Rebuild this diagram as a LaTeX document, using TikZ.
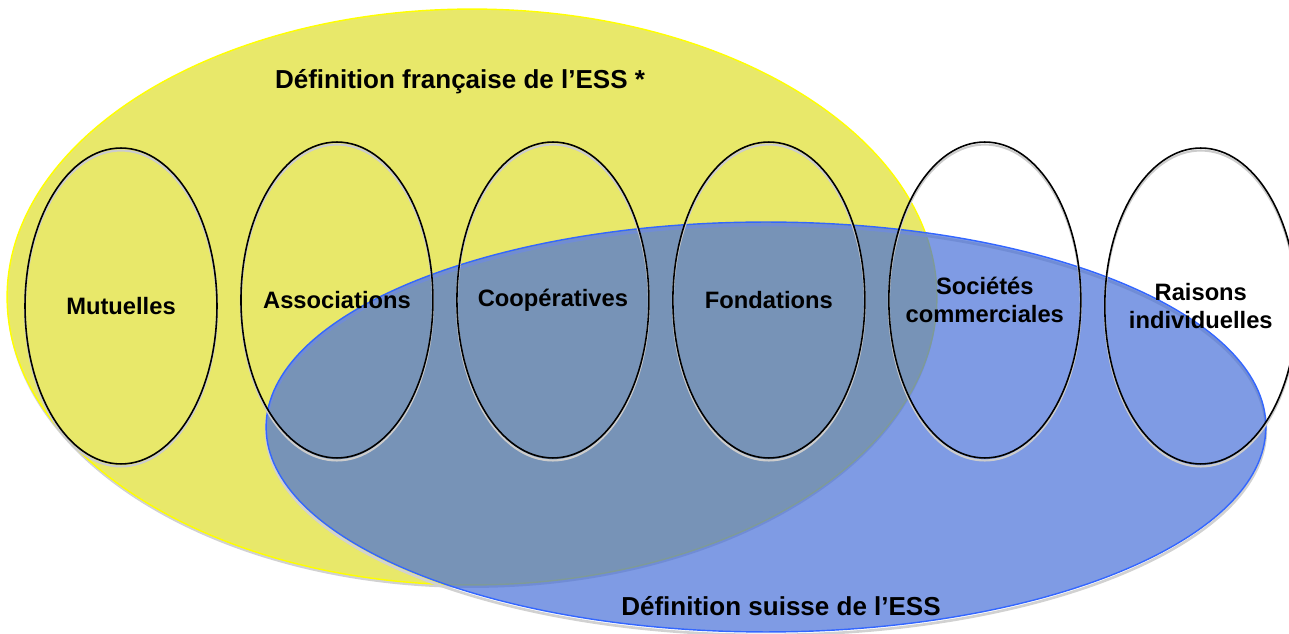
\documentclass[tikz,border=0pt]{standalone}
\usepackage{fontspec}
\setmainfont{Liberation Sans}
\usepackage{tikz}
\usetikzlibrary{shapes.geometric,shadows}
\usetikzlibrary{positioning}
\definecolor{jaune}{RGB}{232,232,106}
\definecolor{jauneBord}{RGB}{255,255,0}
\definecolor{bleu}{RGB}{72,112,216}
\definecolor{bleuBord}{RGB}{51,102,255}

\begin{document}
\begin{tikzpicture}[x=0.02cm,y=-0.02cm,node distance=0.48cm,
    etiquette/.style={align=center,inner sep=0pt,font=\fontsize{13.5}{16}\selectfont\bfseries},
    statut/.style={ellipse,draw=black,line width=0.9pt,minimum width=3.84cm,minimum height=6.32cm,inner sep=0pt,outer sep=0pt,label={[etiquette]center:#1},general shadow={shadow yshift=-0.05cm,draw=black!20,line width=1.2pt}},
    titre/.style={font=\fontsize{14.8}{18}\selectfont\bfseries}]
      \useasboundingbox (0,0) rectangle (1289,634);
      % Définitions de l'ESS
      \node[ellipse,draw=jauneBord,line width=0.8pt,fill=jaune,minimum width=18.6cm,minimum height=11.52cm,general shadow={shadow yshift=-0.06cm,fill=black!18}](francaise) at (472,297){};
      \node[ellipse,draw=bleuBord,line width=0.8pt,fill=bleu,fill opacity=0.7,minimum width=20cm,minimum height=8.2cm,general shadow={shadow yshift=-0.06cm,draw=black!18,line width=1.5pt}](suisse) at (766,427){};
      % Statuts juridiques
      \node[statut={Mutuelles}](mutuelles) at (121,306){};
      \node[statut={Associations},right=of mutuelles,yshift=0.12cm](associations){};
      \node[statut={Coopératives},right=of associations](cooperatives){};
      \node[statut={Fondations},right=of cooperatives](fondations){};
      \node[statut={Sociétés\\commerciales},right=of fondations](societes){};
      \node[statut={Raisons\\individuelles},right=of societes,yshift=-0.12cm](raisons){};
      % Titres
      \node[titre](titreFR) at (460,82){Définition française de l’ESS *};
      \node[titre](titreCH) at (781,606){Définition suisse de l’ESS};
    \end{tikzpicture}
\end{document}
